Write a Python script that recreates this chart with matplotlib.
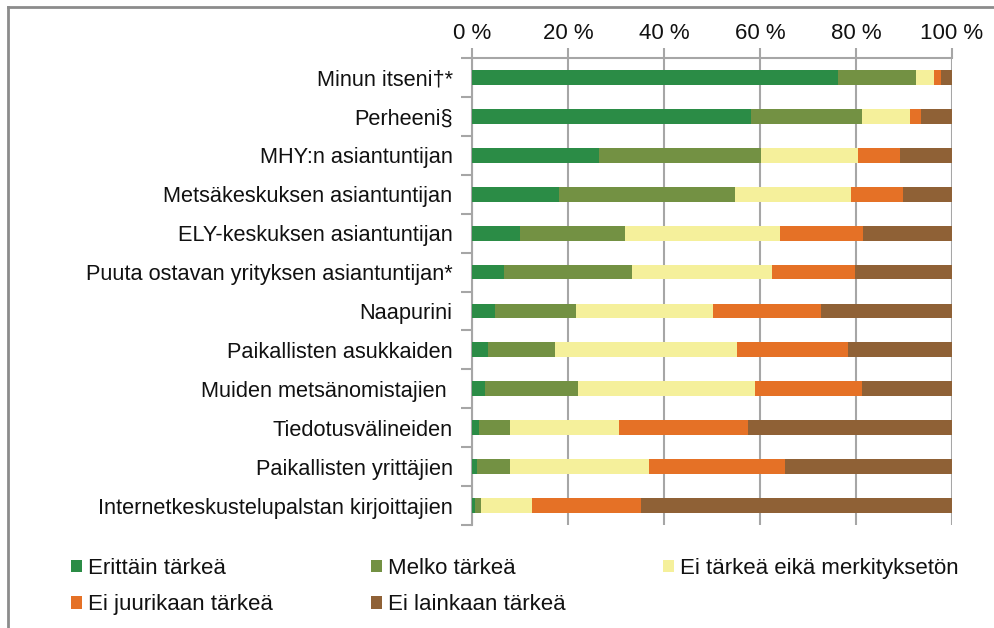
import matplotlib.pyplot as plt
import numpy as np
from matplotlib.lines import Line2D
from matplotlib.patches import Patch

plt.rcParams['font.family'] = ['Liberation Sans', 'DejaVu Sans']

# categories, top to bottom
categories = [
    'Minun itseni†*',
    'Perheeni§',
    'MHY:n asiantuntijan',
    'Metsäkeskuksen asiantuntijan',
    'ELY-keskuksen asiantuntijan',
    'Puuta ostavan yrityksen asiantuntijan*',
    'Naapurini',
    'Paikallisten asukkaiden',
    'Muiden metsänomistajien ',
    'Tiedotusvälineiden',
    'Paikallisten yrittäjien',
    'Internetkeskustelupalstan kirjoittajien',
]

# shares in percent, one list per answer option
erittain = [76.2, 58.1, 26.4, 18.1, 10.1, 6.6, 4.7, 3.3, 2.8, 1.4, 1.0, 0.6]
melko = [16.2, 23.1, 33.9, 36.6, 21.7, 26.8, 16.9, 13.9, 19.2, 6.5, 6.9, 1.2]
ei_eika = [3.8, 10.0, 20.1, 24.3, 32.3, 29.0, 28.6, 38.0, 36.9, 22.7, 28.9, 10.6]
ei_juuri = [1.5, 2.3, 8.7, 10.7, 17.3, 17.3, 22.5, 23.1, 22.3, 27.0, 28.4, 22.8]
ei_lainkaan = [2.3, 6.5, 10.9, 10.3, 18.6, 20.3, 27.3, 21.7, 18.8, 42.4, 34.8, 64.8]

series_names = ['Erittäin tärkeä', 'Melko tärkeä', 'Ei tärkeä eikä merkityksetön',
                'Ei juurikaan tärkeä', 'Ei lainkaan tärkeä']
colors = ['#2b8c46', '#739143', '#f5f09b', '#e57126', '#8f6136']

fig = plt.figure(figsize=(9.94, 6.28), dpi=100)
ax = fig.add_axes([472 / 994, 1 - 525 / 628, 480 / 994, 467 / 628])

y = np.arange(len(categories))
left = np.zeros(len(categories))
data = [erittain, melko, ei_eika, ei_juuri, ei_lainkaan]
for vals, name, col in zip(data, series_names, colors):
    vals = np.array(vals)
    ax.barh(y, vals, left=left, height=0.38, color=col, label=name, zorder=3)
    left = left + vals

ax.set_xlim(0, 100)
ax.set_ylim(len(categories) - 0.5, -0.5)
ax.set_xticks(np.arange(0, 101, 20))
ax.set_xticklabels([f'{v} %' for v in range(0, 101, 20)])
ax.xaxis.tick_top()
ax.set_yticks(y)
ax.set_yticklabels(categories)
ax.set_yticks(np.arange(-0.5, len(categories), 1), minor=True)

grid_col = '#a6a6a6'
ax.grid(axis='x', color=grid_col, linewidth=1.5, zorder=0)
for s in ['right', 'bottom']:
    ax.spines[s].set_visible(False)
for s in ['top', 'left']:
    ax.spines[s].set_color(grid_col)
    ax.spines[s].set_linewidth(1.5)

ax.tick_params(axis='x', which='major', length=7, width=1.5, color=grid_col,
               labelsize=16, pad=3, labelcolor='#111111')
ax.tick_params(axis='y', which='major', length=0, pad=14, labelsize=15.7,
               labelcolor='#111111')
ax.tick_params(axis='y', which='minor', length=8, width=1.5, color=grid_col)

# legend filled row by row as in the original (matplotlib fills columns)
order = [0, 3, 1, 4, 2]
handles = [Patch(facecolor=colors[i], edgecolor='none') for i in order]
labels = [series_names[i] for i in order]
fig.legend(handles, labels, loc='center left',
           bbox_to_anchor=(71 / 994, 1 - 586.5 / 628), ncol=3, frameon=False,
           fontsize=16, handlelength=0.5, handleheight=0.5,
           handletextpad=0.27, columnspacing=4.4, labelspacing=0.68,
           borderpad=0, borderaxespad=0, labelcolor='#111111')

# outer frame (only left and top edges visible)
frame_col = '#8c8c8c'
fig.add_artist(Line2D([8 / 994, 8 / 994], [0, 1 - 7 / 628], color=frame_col,
                      linewidth=2, transform=fig.transFigure))
fig.add_artist(Line2D([8 / 994, 1], [1 - 7 / 628, 1 - 7 / 628], color=frame_col,
                      linewidth=2, transform=fig.transFigure))

fig.savefig('out.png', dpi=100)
